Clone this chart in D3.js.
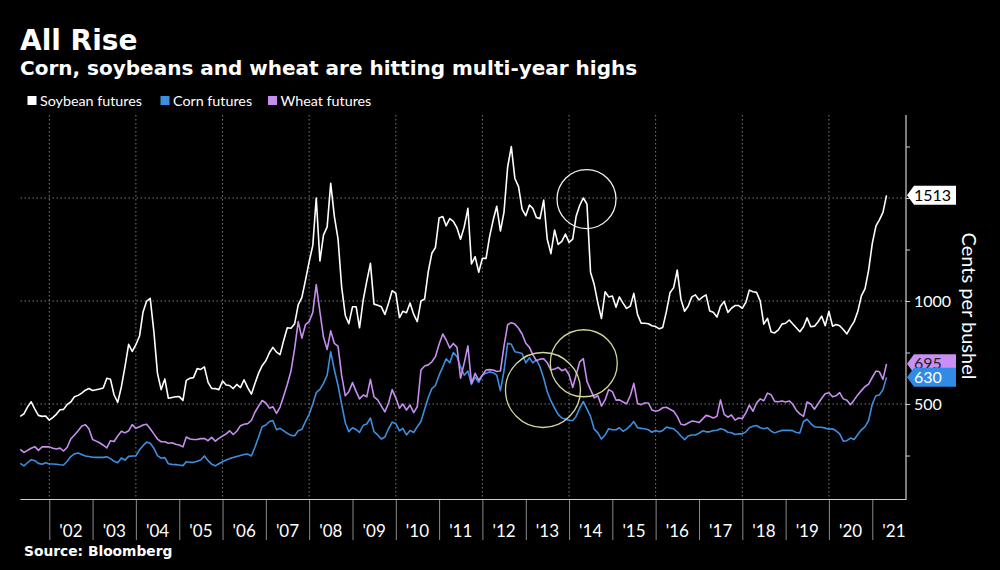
<!DOCTYPE html>
<html>
<head>
<meta charset="utf-8">
<script src="https://cdn.jsdelivr.net/npm/d3@7"></script>
<style>
  html, body { margin: 0; padding: 0; background: #000; }
  svg { display: block; }
</style>
</head>
<body>
<svg id="chart" width="1000" height="570"></svg>
<script>
// ---------------- DATA (monthly, May 2001 .. May 2021, cents per bushel) ----------------
const firstMonth = "2001-05";
const lastMonth = "2021-05";

const soybean = [
  440, 452, 485, 511, 475, 445, 440, 442,
  422, 435, 450, 472, 474, 498, 510, 535, 542, 553, 567, 575,
  566, 569, 573, 578, 625, 620, 545, 508, 584, 680, 790, 755,
  788, 830, 945, 1000, 1013, 850, 650, 570, 622, 528, 532, 535,
  536, 518, 615, 625, 628, 672, 668, 680, 605, 576, 575, 570,
  612, 592, 590, 575, 595, 580, 618, 580, 548, 600, 650, 686,
  710, 750, 775, 752, 740, 810, 870, 868, 890, 981, 1018, 1100,
  1190, 1270, 1500, 1194, 1320, 1360, 1571, 1410, 1300, 1070, 930, 890,
  972, 972, 870, 1005, 1095, 1183, 985, 980, 972, 935, 990, 1050,
  1037, 920, 950, 943, 990, 935, 900, 1000, 1010, 1140, 1232, 1260,
  1403, 1410, 1365, 1400, 1387, 1355, 1300, 1360, 1450, 1180, 1215, 1140,
  1207, 1207, 1310, 1393, 1460, 1340, 1430, 1650, 1750, 1595, 1555, 1445,
  1414, 1466, 1450, 1405, 1400, 1490, 1300, 1230, 1345, 1275, 1290, 1325,
  1285, 1300, 1410, 1465, 1500, 1470, 1140, 1080, 990, 915, 1045, 1020,
  1024, 970, 1020, 990, 964, 975, 1037, 935, 892, 892, 890, 880,
  876, 865, 872, 950, 1040, 1065, 1150, 1010, 950, 975, 1020, 1030,
  1005, 1020, 1030, 952, 945, 922, 975, 998, 945, 965, 978, 978,
  965, 995, 1053, 1045, 1042, 1000, 888, 916, 850, 845, 860, 888,
  892, 908, 890, 870, 851, 875, 918, 875, 878, 898, 927, 880,
  950, 878, 886, 880, 862, 840, 872, 900, 950, 1025, 1060, 1150,
  1280, 1365, 1393, 1430, 1513
];

const corn = [
  212, 200, 215, 230, 225, 212, 208, 215,
  209, 209, 208, 205, 204, 222, 245, 258, 262, 255, 248, 245,
  242, 241, 241, 241, 244, 235, 222, 215, 238, 228, 246, 248,
  248, 278, 298, 315, 310, 285, 250, 237, 240, 210, 207, 206,
  204, 201, 220, 217, 217, 222, 228, 248, 225, 208, 200, 210,
  220, 228, 235, 240, 245, 250, 255, 257, 248, 290, 340, 390,
  398, 415, 420, 375, 382, 370, 358, 348, 346, 370, 377, 415,
  450, 500, 555, 571, 600, 640, 754, 665, 590, 500, 409, 366,
  385, 376, 362, 397, 403, 432, 366, 350, 330, 340, 380, 412,
  405, 370, 382, 350, 372, 362, 390, 415, 475, 530, 575, 590,
  640, 680, 720, 700, 750, 730, 680, 640, 660, 595, 630, 605,
  640, 650, 656, 652, 640, 565, 660, 795, 790, 754, 750, 745,
  700, 725, 700, 715, 680, 625, 560, 515, 480, 450, 432, 427,
  420, 420, 440, 480, 512, 475, 440, 378, 360, 330, 350, 380,
  375, 375, 385, 368, 378, 395, 415, 385, 382, 380, 375, 363,
  372, 365, 372, 388, 383, 380, 365, 345, 327, 345, 350, 350,
  358, 370, 365, 365, 371, 373, 380, 375, 363, 361, 352, 356,
  355, 365, 385, 392, 396, 385, 380, 385, 368, 360, 367, 372,
  373, 372, 371, 362, 360, 415, 426, 405, 390, 387, 387, 383,
  378, 380, 370, 355, 320, 322, 335, 328, 352, 375, 390, 420,
  500, 540, 544, 570, 630
];

const wheat = [
  280, 265, 275, 285, 293, 275, 292, 293,
  292, 285, 282, 286, 272, 290, 330, 350, 370, 392, 400, 380,
  328, 320, 312, 300, 287, 322, 318, 345, 368, 360, 370, 400,
  382, 390, 398, 402, 380, 355, 330, 317, 317, 310, 312, 305,
  301, 292, 340, 330, 328, 328, 332, 333, 322, 338, 320, 333,
  345, 355, 370, 352, 368, 395, 402, 405, 420, 460, 490, 517,
  505, 480, 487, 455, 485, 540, 595, 660, 770, 900, 820, 885,
  900, 945, 1080, 948, 825, 765, 855, 794, 780, 640, 540, 560,
  604, 560, 525, 544, 535, 620, 535, 520, 490, 462, 505, 570,
  530, 480, 500, 471, 495, 458, 487, 665, 685, 690, 705, 730,
  790, 840, 812, 772, 794, 775, 625, 700, 782, 600, 649, 615,
  640, 665, 667, 665, 658, 660, 780, 885, 895, 888, 868, 840,
  795, 775, 740, 710, 718, 720, 700, 665, 670, 678, 662, 670,
  642, 580, 640, 705, 720, 610, 570, 530, 540, 490, 520, 570,
  560, 519, 520, 510, 501, 540, 600, 503, 497, 505, 505, 471,
  465, 470, 482, 484, 475, 465, 440, 402, 398, 408, 417, 415,
  410, 428, 445, 440, 432, 440, 520, 450, 436, 447, 422, 432,
  430, 458, 495, 465, 505, 525, 516, 553, 545, 513, 511, 515,
  510, 515, 500, 470, 452, 440, 510, 500, 475, 500, 528, 550,
  555, 535, 540, 555, 525, 518, 497, 520, 545, 565, 585, 597,
  630, 660, 657, 620, 695
];

const seriesNames  = ["Soybean futures", "Corn futures", "Wheat futures"];
const seriesColors = ["#ffffff", "#3c8ee0", "#c78ef0"];
const tagColors    = ["#ffffff", "#2f8be6", "#c98ff2"];
const tagText      = ["#000000", "#ffffff", "#222222"];

const yearTicks  = ["2002","2003","2004","2005","2006","2007","2008","2009","2010","2011",
                    "2012","2013","2014","2015","2016","2017","2018","2019","2020","2021"];
const yearLabels = ["'02","'03","'04","'05","'06","'07","'08","'09","'10","'11",
                    "'12","'13","'14","'15","'16","'17","'18","'19","'20","'21"];
const gridYears  = ["2002","2004","2006","2008","2010","2012","2014","2016","2018","2020"];
const yTicks     = [250, 500, 750, 1000, 1250, 1500, 1750];
const yLabels    = [500, 1000];
const yGrid      = [500, 1000, 1500];

// annotation circles: [date, value, radius(px), color]
const circles = [
  ["2014-05-28", 1495, 29.5, "#f2f2f2"],
  ["2013-05-26", 568, 37.5, "#d4d89a"],
  ["2014-05-05", 698, 33.5, "#d4d89a"]
];

// ---------------- SCALES ----------------
const parseM = d3.timeParse("%Y-%m");
const parseY = d3.timeParse("%Y");
const parseD = d3.timeParse("%Y-%m-%d");
const months = d3.timeMonth.range(parseM(firstMonth), d3.timeMonth.offset(parseM(lastMonth), 1));

const plotL = 20.5, plotR = 906, plotT = 115, plotB = 499;

const x = d3.scaleTime()
  .domain([parseY("2002"), parseY("2021")])
  .range([49.3, 872.3]);
const y = d3.scaleLinear().domain([39, 1903]).range([plotB, plotT]);

const svg = d3.select("#chart");
svg.append("rect").attr("width", 1000).attr("height", 570).attr("fill", "#000");

// ---------------- TITLES ----------------
svg.append("text").attr("x", 20).attr("y", 50)
  .attr("font-family", "DejaVu Sans").attr("font-weight", "bold")
  .attr("font-size", 28).attr("fill", "#fff").text("All Rise");
svg.append("text").attr("x", 20).attr("y", 75)
  .attr("font-family", "DejaVu Sans").attr("font-weight", "bold")
  .attr("font-size", 20).attr("fill", "#fff")
  .text("Corn, soybeans and wheat are hitting multi-year highs");

// legend
const legendX = [27.5, 160.5, 268];
seriesNames.forEach((n, i) => {
  svg.append("rect").attr("x", legendX[i]).attr("y", 96).attr("width", 9).attr("height", 9)
    .attr("fill", seriesColors[i]);
  svg.append("text").attr("x", legendX[i] + 12.5).attr("y", 105.5)
    .attr("font-family", "Lato").attr("font-size", 14.3).attr("fill", "#fff").text(n);
});

// ---------------- GRID ----------------
const grid = svg.append("g");
gridYears.forEach(yr => {
  grid.append("line").attr("x1", x(parseY(yr))).attr("x2", x(parseY(yr)))
    .attr("y1", plotT).attr("y2", plotB)
    .attr("stroke", "#7a7a7a").attr("stroke-width", 1).attr("stroke-dasharray", "1.5,2.5");
});
yGrid.forEach(v => {
  grid.append("line").attr("x1", plotL).attr("x2", plotR)
    .attr("y1", y(v)).attr("y2", y(v))
    .attr("stroke", "#7a7a7a").attr("stroke-width", 1).attr("stroke-dasharray", "1.5,2.5");
});

// ---------------- X AXIS ----------------
const xAxis = d3.axisBottom(x)
  .tickValues(yearTicks.map(parseY))
  .tickSize(41)
  .tickFormat("");
const gx = svg.append("g").attr("transform", `translate(0,${plotB})`).call(xAxis);
gx.select(".domain").remove();
gx.selectAll(".tick line").attr("stroke", "#8a8a8a").attr("stroke-width", 1);
svg.append("line").attr("x1", plotL).attr("x2", plotR).attr("y1", plotB + 0.5).attr("y2", plotB + 0.5)
  .attr("stroke", "#cfcfcf").attr("stroke-width", 1.2);

yearTicks.forEach((yr, i) => {
  const d0 = parseY(yr), d1 = d3.timeYear.offset(d0, 1);
  svg.append("text").attr("x", (x(d0) + x(d1)) / 2).attr("y", 537)
    .attr("text-anchor", "middle").attr("font-family", "Lato").attr("font-size", 17)
    .attr("fill", "#fff").text(yearLabels[i]);
});

// ---------------- Y AXIS (right) ----------------
const yAxis = d3.axisRight(y)
  .tickValues(yTicks)
  .tickSize(4)
  .tickPadding(4)
  .tickFormat(v => yLabels.includes(v) ? String(v) : "");
const gy = svg.append("g").attr("transform", `translate(${plotR},0)`).call(yAxis);
gy.select(".domain").attr("d", `M0,${plotT}V${plotB + 1}`).attr("stroke", "#cfcfcf").attr("stroke-width", 1.2);
gy.selectAll(".tick line").attr("stroke", "#cfcfcf");
gy.selectAll(".tick text").attr("font-family", "Lato").attr("font-size", 16).attr("fill", "#fff");

svg.append("text")
  .attr("transform", `translate(962,306) rotate(90)`)
  .attr("text-anchor", "middle").attr("font-family", "Lato").attr("font-size", 20)
  .attr("fill", "#fff").text("Cents per bushel");

// ---------------- LINES ----------------
const allSeries = [soybean, corn, wheat];
const line = d3.line().x((d, i) => x(months[i])).y(d => y(d));
// draw corn, wheat, then soybean on top
[1, 2, 0].forEach(si => {
  svg.append("path").datum(allSeries[si])
    .attr("d", line)
    .attr("fill", "none")
    .attr("stroke", seriesColors[si])
    .attr("stroke-width", 1.6)
    .attr("stroke-linejoin", "round");
});

// ---------------- ANNOTATION CIRCLES ----------------
circles.forEach(c => {
  svg.append("circle").attr("cx", x(parseD(c[0]))).attr("cy", y(c[1])).attr("r", c[2])
    .attr("fill", "none").attr("stroke", c[3]).attr("stroke-width", 1.3);
});

// ---------------- END TAGS ----------------
// soybean, wheat, corn (corn tag drawn last, partly covering the wheat tag as in the original)
const tagOrder = [0, 2, 1];
tagOrder.forEach(si => {
  const v = allSeries[si][allSeries[si].length - 1];
  const yc = y(v);
  const x0 = plotR + 1, x1 = 956, h = 9.5;
  const g = svg.append("g");
  g.append("path")
    .attr("d", `M${x0},${yc}L${x0 + 7},${yc - h}H${x1}V${yc + h}H${x0 + 7}Z`)
    .attr("fill", tagColors[si]);
  g.append("text").attr("x", 914).attr("y", yc + 5.5)
    .attr("font-family", "Lato").attr("font-size", 16).attr("fill", tagText[si]).text(String(v));
});

// ---------------- SOURCE ----------------
svg.append("text").attr("x", 24).attr("y", 556)
  .attr("font-family", "DejaVu Sans").attr("font-weight", "bold")
  .attr("font-size", 13.8).attr("fill", "#fff").text("Source: Bloomberg");
</script>
</body>
</html>
